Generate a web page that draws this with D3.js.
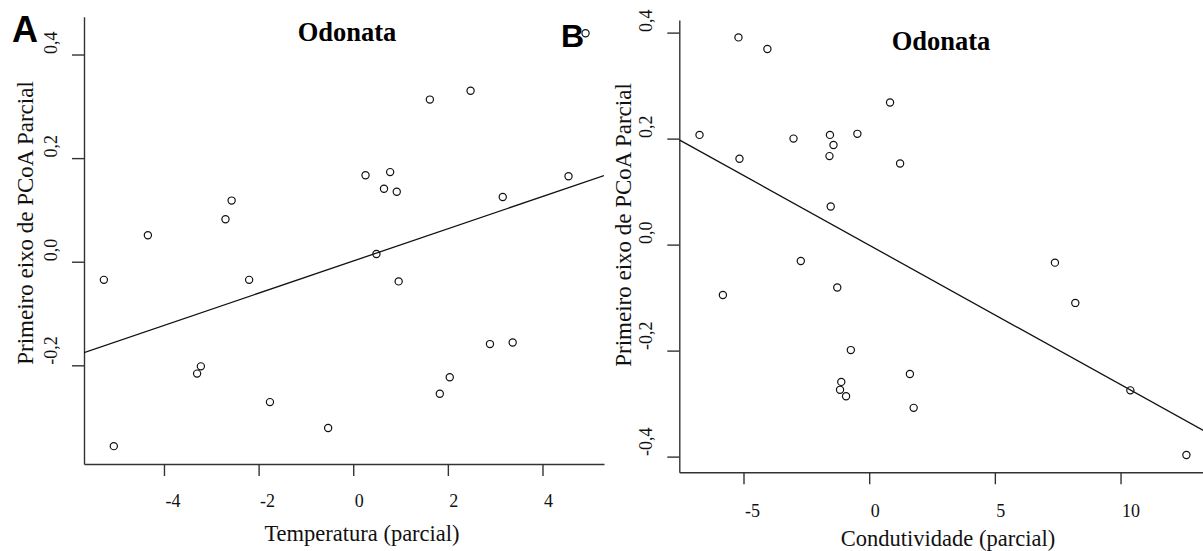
<!DOCTYPE html>
<html>
<head>
<meta charset="utf-8">
<script src="https://cdn.jsdelivr.net/npm/d3@7"></script>
<style>
  body { margin: 0; background: #fff; }
  svg { display: block; }
  .serif { font-family: "Liberation Serif", "Times New Roman", serif; }
</style>
</head>
<body>
<svg id="chart" width="1203" height="551"></svg>
<script>
// panel A: temperatura
var tempX = [4.91, 1.62, 2.48, 0.26, 0.78, 0.65, 0.92, 4.55, 3.16, -2.57, -2.70, -4.34, 0.49,
             -5.27, -2.20, 0.96, 2.89, 3.37, -3.22, -3.30, 2.04, 1.83, -1.76, -0.53, -5.06];
var tempY = [0.441, 0.313, 0.330, 0.167, 0.173, 0.141, 0.135, 0.165, 0.125, 0.118, 0.082, 0.051, 0.015,
             -0.035, -0.035, -0.038, -0.159, -0.156, -0.202, -0.216, -0.223, -0.255, -0.271, -0.321, -0.356];

// panel B: condutividade
var condX = [-5.20, -4.05, 0.83, -6.75, -3.01, -1.56, -0.47, -1.42, -1.58, -5.16, 1.23, -1.53, -2.72,
             7.39, -5.82, -1.27, 8.20, -0.73, 1.62, -1.11, -1.16, -0.92, 10.39, 1.77, 12.62];
var condY = [0.391, 0.369, 0.268, 0.207, 0.200, 0.207, 0.209, 0.188, 0.167, 0.162, 0.153, 0.072, -0.031,
             -0.034, -0.095, -0.081, -0.110, -0.199, -0.244, -0.259, -0.274, -0.286, -0.275, -0.308, -0.397];

var xTicksA = [-4, -2, 0, 2, 4];
var yTicksA = [-0.2, 0, 0.2, 0.4];
var xTicksB = [-5, 0, 5, 10];
var yTicksB = [-0.4, -0.2, 0, 0.2, 0.4];

// fitted lines [intercept, slope]
var fitA = [0.0014, 0.0311];
var fitB = [-0.001, -0.0263];

var svg = d3.select("#chart");

function commaFmt(d) {
  return d.toFixed(1).replace(".", ",");
}

function drawPanel(p) {
  var x = d3.scaleLinear().domain(p.xDomain).range(p.xRange);
  var y = d3.scaleLinear().domain(p.yDomain).range(p.yRange);
  var g = svg.append("g");

  g.append("clipPath").attr("id", p.id + "-clip")
    .append("rect")
    .attr("x", p.xRange[0]).attr("y", p.yRange[1])
    .attr("width", p.xRange[1] - p.xRange[0])
    .attr("height", p.yRange[0] - p.yRange[1]);

  // x axis (labels start at the tick, as in the original)
  var xAxis = g.append("g")
    .attr("transform", "translate(0," + p.yRange[0] + ")")
    .call(d3.axisBottom(x).tickValues(p.xTicks).tickSize(12).tickSizeOuter(0)
      .tickFormat(function(d) { return String(d); }));
  xAxis.selectAll(".tick text")
    .attr("x", 1).attr("y", p.xLabDy).attr("dy", 0)
    .attr("text-anchor", "start")
    .attr("class", "serif")
    .style("font-size", "18px").attr("fill", "#111");

  // y axis, rotated labels
  var yAxis = g.append("g")
    .attr("transform", "translate(" + p.xRange[0] + ",0)")
    .call(d3.axisLeft(y).tickValues(p.yTicks).tickSize(12).tickSizeOuter(0)
      .tickFormat(commaFmt));
  yAxis.selectAll(".tick text")
    .attr("x", 0).attr("dy", 0)
    .attr("transform", "translate(-27,-1) rotate(-90)")
    .attr("text-anchor", "start")
    .attr("class", "serif")
    .style("font-size", "18px").attr("fill", "#111");

  g.selectAll(".domain, .tick line").attr("stroke", "#333").attr("stroke-width", 1.4);

  // fitted line
  var fit = p.fit;
  g.append("line")
    .attr("clip-path", "url(#" + p.id + "-clip)")
    .attr("x1", x(p.xDomain[0])).attr("y1", y(fit[0] + fit[1] * p.xDomain[0]))
    .attr("x2", x(p.xDomain[1])).attr("y2", y(fit[0] + fit[1] * p.xDomain[1]))
    .attr("stroke", "#111").attr("stroke-width", 1.3);

  // points
  g.selectAll("circle.pt")
    .data(d3.range(p.xs.length))
    .enter().append("circle")
    .attr("class", "pt")
    .attr("cx", function(i) { return x(p.xs[i]); })
    .attr("cy", function(i) { return y(p.ys[i]); })
    .attr("r", 3.6)
    .attr("fill", "none")
    .attr("stroke", "#111")
    .attr("stroke-width", 1.2);

  // titles and labels
  g.append("text").attr("class", "serif")
    .attr("x", p.title[0]).attr("y", p.title[1])
    .attr("text-anchor", "middle")
    .style("font-size", "26.5px").style("font-weight", "bold")
    .text("Odonata");

  g.append("text").attr("class", "serif")
    .attr("x", p.xLab[0]).attr("y", p.xLab[1])
    .attr("text-anchor", "middle")
    .style("font-size", "22.5px").attr("fill", "#111")
    .text(p.xLabel);

  g.append("text").attr("class", "serif")
    .attr("transform", "translate(" + p.yLab[0] + "," + p.yLab[1] + ") rotate(-90)")
    .attr("text-anchor", "middle")
    .style("font-size", "23px").attr("fill", "#111")
    .text("Primeiro eixo de PCoA Parcial");

  g.append("text")
    .attr("x", p.letter[0]).attr("y", p.letter[1])
    .style("font-family", "'Liberation Sans', Arial, sans-serif")
    .style("font-size", p.letter[2] + "px").style("font-weight", "bold")
    .text(p.id);
}

drawPanel({
  id: "A",
  xs: tempX, ys: tempY, fit: fitA,
  xDomain: [-5.69, 5.30], xRange: [84, 604],
  yDomain: [-0.3905, 0.473], yRange: [464, 16.7],
  xTicks: xTicksA, yTicks: yTicksA, xLabDy: 43,
  title: [347, 41], xLab: [362, 541], yLab: [33, 223],
  xLabel: "Temperatura (parcial)",
  letter: [12, 42, 36]
});

drawPanel({
  id: "B",
  xs: condX, ys: condY, fit: fitB,
  xDomain: [-7.554, 13.36], xRange: [679.3, 1205],
  yDomain: [-0.4296, 0.4238], yRange: [472.3, 20],
  xTicks: xTicksB, yTicks: yTicksB, xLabDy: 45,
  title: [941, 50], xLab: [948, 546], yLab: [631, 225],
  xLabel: "Condutividade (parcial)",
  letter: [561, 47, 32]
});
</script>
</body>
</html>
